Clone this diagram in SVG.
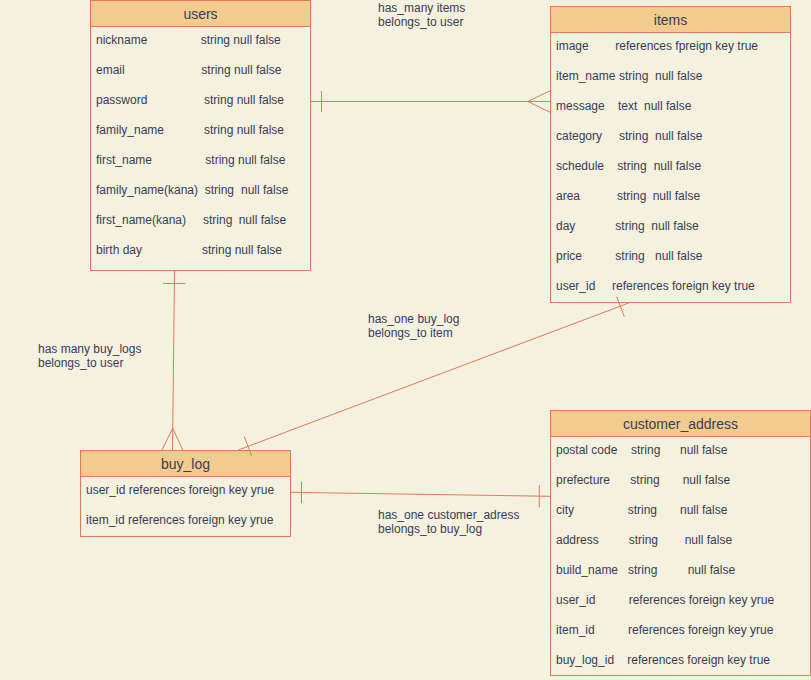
<svg xmlns="http://www.w3.org/2000/svg" width="811" height="680" viewBox="0 0 811 680">
<style>
.bg{fill:#F4F1DE}
.box{fill:#F4F1DE;stroke:#E07A5F;stroke-width:1}
.hd{fill:#F2CC8F;stroke:#E07A5F;stroke-width:1}
.t{font-family:"Liberation Sans",Arial,Helvetica,sans-serif;font-size:12px;fill:#393C56}
.h{font-family:"Liberation Sans",Arial,Helvetica,sans-serif;font-size:14px;fill:#393C56;text-anchor:middle}
.ln{fill:none;stroke:#E07A5F;stroke-width:1}
</style>
<rect class="bg" x="0" y="0" width="811" height="680"/>

<g id="users">
<rect class="box" x="90.5" y="0.5" width="220" height="270"/>
<rect class="hd" x="90.5" y="0.5" width="220" height="26"/>
<text class="h" x="200.5" y="19">users</text>
<text class="t" x="96" y="44">nickname<tspan x="200.7">string null false</tspan></text>
<text class="t" x="96" y="74">email<tspan x="201.3">string null false</tspan></text>
<text class="t" x="96" y="104">password<tspan x="204">string null false</tspan></text>
<text class="t" x="96" y="134">family_name<tspan x="204">string null false</tspan></text>
<text class="t" x="96" y="164">first_name<tspan x="205.3">string null false</tspan></text>
<text class="t" x="96" y="194">family_name(kana)<tspan x="204.7">string</tspan><tspan x="241">null false</tspan></text>
<text class="t" x="96" y="224">first_name(kana)<tspan x="203">string</tspan><tspan x="238.7">null false</tspan></text>
<text class="t" x="96" y="254">birth day<tspan x="202">string null false</tspan></text>
</g>

<g id="items">
<rect class="box" x="550.5" y="6.5" width="240" height="296"/>
<rect class="hd" x="550.5" y="6.5" width="240" height="26"/>
<text class="h" x="670.5" y="25.3">items</text>
<text class="t" x="556" y="50">image<tspan x="615.3">references fpreign key true</tspan></text>
<text class="t" x="556" y="80">item_name<tspan x="619">string</tspan><tspan x="655">null false</tspan></text>
<text class="t" x="556" y="110">message<tspan x="618">text</tspan><tspan x="644">null false</tspan></text>
<text class="t" x="556" y="140">category<tspan x="619">string</tspan><tspan x="655">null false</tspan></text>
<text class="t" x="556" y="170">schedule<tspan x="617.3">string</tspan><tspan x="653.7">null false</tspan></text>
<text class="t" x="556" y="200">area<tspan x="617">string</tspan><tspan x="652.7">null false</tspan></text>
<text class="t" x="556" y="230">day<tspan x="615.3">string</tspan><tspan x="651.3">null false</tspan></text>
<text class="t" x="556" y="260">price<tspan x="615.3">string</tspan><tspan x="655">null false</tspan></text>
<text class="t" x="556" y="290">user_id<tspan x="612">references foreign key true</tspan></text>
</g>

<g id="buy_log">
<rect class="box" x="80.5" y="450.5" width="210" height="86"/>
<rect class="hd" x="80.5" y="450.5" width="210" height="26"/>
<text class="h" x="185.5" y="469.3">buy_log</text>
<text class="t" x="86" y="494">user_id references foreign key yrue</text>
<text class="t" x="86" y="524">item_id references foreign key yrue</text>
</g>

<g id="customer_address">
<rect class="box" x="550.5" y="410.5" width="260" height="265"/>
<rect class="hd" x="550.5" y="410.5" width="260" height="26"/>
<text class="h" x="680.5" y="429">customer_address</text>
<text class="t" x="556" y="454">postal code<tspan x="631">string</tspan><tspan x="680">null false</tspan></text>
<text class="t" x="556" y="484">prefecture<tspan x="630.3">string</tspan><tspan x="682.7">null false</tspan></text>
<text class="t" x="556" y="514">city<tspan x="627.7">string</tspan><tspan x="680">null false</tspan></text>
<text class="t" x="556" y="544">address<tspan x="628.7">string</tspan><tspan x="684.7">null false</tspan></text>
<text class="t" x="556" y="574">build_name<tspan x="628">string</tspan><tspan x="687.7">null false</tspan></text>
<text class="t" x="556" y="604">user_id<tspan x="628.7">references foreign key yrue</tspan></text>
<text class="t" x="556" y="634">item_id<tspan x="628">references foreign key yrue</tspan></text>
<text class="t" x="556" y="664">buy_log_id<tspan x="627.3">references foreign key true</tspan></text>
</g>

<g id="connectors">
<!-- users - items -->
<path class="ln" d="M310.5 101.5 L550.5 101.5"/>
<path class="ln" d="M321.5 91 L321.5 112"/>
<path class="ln" d="M550.5 90.5 L527.7 101.5 L550.5 112.5"/>
<!-- users - buy_log -->
<path class="ln" d="M174.5 270.5 L172.5 450.5"/>
<path class="ln" d="M163 283.5 L185.3 283.5"/>
<path class="ln" d="M161.7 450.5 L172.7 428.3 L183 450.5"/>
<!-- items - buy_log -->
<path class="ln" d="M630 302.5 L238.3 450"/>
<path class="ln" d="M616.7 296.7 L624.3 316.7"/>
<path class="ln" d="M244.3 436.7 L251.5 455.5"/>
<!-- buy_log - customer_address -->
<path class="ln" d="M290.5 492.3 L550.5 496.3"/>
<path class="ln" d="M301.5 481.7 L301.5 503.3"/>
<path class="ln" d="M539.3 485 L539.3 507.3"/>
</g>

<g id="labels">
<text class="t" x="378" y="12">has_many items</text>
<text class="t" x="378" y="26">belongs_to user</text>
<text class="t" x="38" y="353">has many buy_logs</text>
<text class="t" x="38" y="367">belongs_to user</text>
<text class="t" x="368" y="323">has_one buy_log</text>
<text class="t" x="368" y="337">belongs_to item</text>
<text class="t" x="378" y="519">has_one customer_adress</text>
<text class="t" x="378" y="533">belongs_to buy_log</text>
</g>
</svg>
